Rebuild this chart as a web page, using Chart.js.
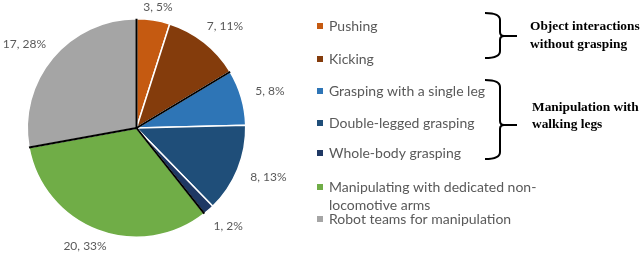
<!DOCTYPE html>
<html>
<head>
<meta charset="utf-8">
<script src="https://cdn.jsdelivr.net/npm/chart.js@4"></script>
<style>
  html, body { margin: 0; padding: 0; background: #fff; }
  #wrap { width: 640px; height: 253px; position: relative; }
</style>
</head>
<body>
<div id="wrap"><canvas id="pie"></canvas></div>
<script>
// data
const categories = ['Pushing', 'Kicking', 'Grasping with a single leg', 'Double-legged grasping',
  'Whole-body grasping', ['Manipulating with dedicated non-', 'locomotive arms'], 'Robot teams for manipulation']
const papers = [3, 7, 5, 8, 1, 20, 17]
const colors = ['#C55A11', '#843C0C', '#2E75B6', '#1F4E79', '#1F3864', '#70AD47', '#A5A5A5']
const groupNames = [['Object interactions', 'without grasping'], ['Manipulation with', 'walking legs']]

// slices whose leading edge gets a black separator (group starts)
const separators = [0, 2, 5, 6]

const total = papers.reduce((a, b) => a + b, 0)

const decor = {
  id: 'decor',
  afterDraw(chart) {
    const ctx = chart.ctx
    const meta = chart.getDatasetMeta(0)
    ctx.save()

    // black group separators
    ctx.strokeStyle = '#000'
    ctx.lineWidth = 2
    separators.forEach(i => {
      const a = meta.data[i]
      ctx.beginPath()
      ctx.moveTo(a.x, a.y)
      ctx.lineTo(a.x + a.outerRadius * Math.cos(a.startAngle), a.y + a.outerRadius * Math.sin(a.startAngle))
      ctx.stroke()
    })

    // outside data labels "n, p%"
    ctx.font = '12px Lato'
    ctx.fillStyle = '#595959'
    ctx.textAlign = 'center'
    ctx.textBaseline = 'middle'
    meta.data.forEach((a, i) => {
      const mid = (a.startAngle + a.endAngle) / 2
      const txt = papers[i] + ', ' + Math.round(papers[i] / total * 100) + '%'
      const w = ctx.measureText(txt).width
      const r = a.outerRadius + 15
      let tx = a.x + r * Math.cos(mid) + w / 2 * Math.cos(mid)
      let ty = a.y + r * Math.sin(mid) + 6 * Math.sin(mid)
      ty = Math.min(Math.max(ty, 7), 246)
      ctx.fillText(txt, tx, ty)
    })

    // legend
    const rows = [26, 59, 91, 123, 153, 187, 219]
    ctx.font = '14px Lato'
    ctx.textAlign = 'left'
    categories.forEach((lab, i) => {
      ctx.fillStyle = colors[i]
      ctx.fillRect(317, rows[i] - 3, 6, 6)
      ctx.fillStyle = '#595959'
      const lines = Array.isArray(lab) ? lab : [lab]
      lines.forEach((ln, j) => ctx.fillText(ln, 329, rows[i] + j * 18))
    })

    // braces
    ctx.strokeStyle = '#000'
    ctx.lineWidth = 2
    const brace = (top, bot, tip) => {
      ctx.beginPath()
      ctx.moveTo(485, top)
      ctx.quadraticCurveTo(500, top, 500, top + 7)
      ctx.lineTo(500, tip - 4)
      ctx.quadraticCurveTo(500, tip, 504, tip)
      ctx.lineTo(517, tip)
      ctx.moveTo(485, bot)
      ctx.quadraticCurveTo(500, bot, 500, bot - 7)
      ctx.lineTo(500, tip + 4)
      ctx.quadraticCurveTo(500, tip, 504, tip)
      ctx.stroke()
    }
    brace(13, 58, 36)
    brace(80, 159, 125)

    ctx.fillStyle = '#000'
    ctx.font = 'bold 13.4px "Liberation Serif"'
    ctx.fillText(groupNames[0][0], 530, 27)
    ctx.fillText(groupNames[0][1], 530, 45)
    ctx.fillText(groupNames[1][0], 532, 108)
    ctx.fillText(groupNames[1][1], 532, 125)
    ctx.restore()
  }
}

new Chart(document.getElementById('pie'), {
  type: 'pie',
  data: {
    labels: categories,
    datasets: [{
      data: papers,
      backgroundColor: colors,
      borderColor: '#fff',
      borderWidth: 1.5
    }]
  },
  options: {
    responsive: true,
    maintainAspectRatio: false,
    animation: false,
    layout: { padding: { left: 26, right: 393, top: 18, bottom: 15 } },
    plugins: { legend: { display: false }, tooltip: { enabled: false } }
  },
  plugins: [decor]
})
</script>
</body>
</html>
